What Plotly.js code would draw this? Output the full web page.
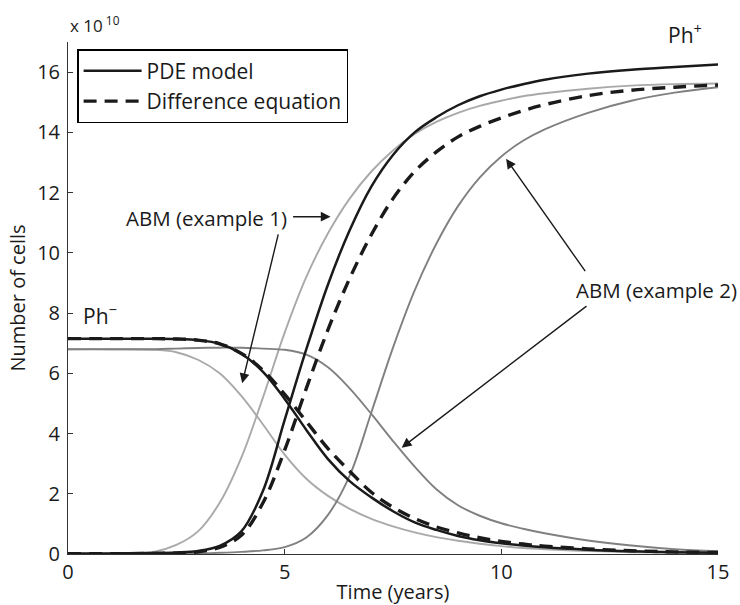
<!DOCTYPE html>
<html>
<head>
<meta charset="utf-8">
<script src="https://cdn.plot.ly/plotly-3.0.1.min.js"></script>
<style>html,body{margin:0;padding:0;background:#fff;}#chart{width:740px;height:605px;}</style>
</head>
<body>
<div id="chart"></div>
<script>
// Time in years
const time = [0,1,2,2.5,3,3.5,4,4.5,5,5.5,6,6.5,7,7.5,8,8.5,9,9.5,10,10.5,11,12,13,14,15];
// Number of cells (x 10^10)
const pdePhPlus   = [0.02,0.02,0.03,0.05,0.1,0.27,0.75,2.1,4.45,6.8,8.95,10.75,12.2,13.25,14.0,14.5,14.9,15.2,15.42,15.6,15.75,15.95,16.08,16.17,16.25];
const pdePhMinus  = [7.15,7.15,7.15,7.14,7.1,6.98,6.65,6.05,5.15,4.12,3.15,2.42,1.88,1.42,1.05,0.8,0.6,0.46,0.36,0.28,0.22,0.14,0.09,0.06,0.04];
const diffPhPlus  = [0.01,0.01,0.02,0.03,0.07,0.22,0.62,1.7,3.45,5.5,7.45,9.15,10.6,11.8,12.7,13.35,13.85,14.2,14.48,14.72,14.92,15.22,15.4,15.5,15.57];
const diffPhMinus = [7.15,7.15,7.15,7.14,7.1,6.98,6.66,6.1,5.3,4.4,3.5,2.75,2.05,1.55,1.18,0.9,0.7,0.54,0.42,0.33,0.26,0.17,0.11,0.07,0.05];
const abm1PhPlus  = [0.01,0.02,0.08,0.3,0.75,1.7,3.2,5.2,7.35,9.2,10.65,11.8,12.7,13.4,13.95,14.35,14.65,14.88,15.05,15.2,15.3,15.45,15.55,15.6,15.62];
const abm1PhMinus = [6.8,6.8,6.78,6.7,6.45,6.0,5.25,4.3,3.3,2.5,1.93,1.5,1.17,0.92,0.72,0.56,0.44,0.34,0.26,0.2,0.16,0.1,0.06,0.04,0.03];
const abm2PhPlus  = [0,0,0.01,0.01,0.02,0.04,0.07,0.12,0.23,0.55,1.3,2.6,4.7,6.85,8.75,10.3,11.55,12.5,13.2,13.72,14.1,14.65,15.05,15.32,15.5];
const abm2PhMinus = [6.8,6.8,6.8,6.82,6.84,6.85,6.85,6.82,6.78,6.62,6.2,5.5,4.65,3.75,2.9,2.15,1.62,1.27,1.02,0.84,0.69,0.45,0.28,0.16,0.09];

const xTicks = [0,5,10,15];
const yTicks = [0,2,4,6,8,10,12,14,16];

const FONT = '"Open Sans", "DejaVu Sans", sans-serif';
const lightGray = '#a9a9a9';
const midGray = '#808080';
const ink = '#1a1a1a';

function tr(y, color, width, dash, name, show, rank) {
  return {
    x: time, y: y, type: 'scatter', mode: 'lines',
    line: {color: color, width: width, dash: dash || 'solid', shape: 'spline', smoothing: 1},
    name: name || '', showlegend: !!show, legendrank: rank || 1000, hoverinfo: 'skip'
  };
}

const data = [
  tr(abm1PhPlus, lightGray, 1.9),
  tr(abm1PhMinus, lightGray, 1.9),
  tr(abm2PhPlus, midGray, 1.9),
  tr(abm2PhMinus, midGray, 1.9),
  tr(diffPhPlus, ink, 3.4, '13px,8px', 'Difference equation', true, 2),
  tr(diffPhMinus, ink, 3.4, '13px,8px'),
  tr(pdePhPlus, ink, 2.5, 'solid', 'PDE model', true, 1),
  tr(pdePhMinus, ink, 2.5)
];

function arrow(x, y, ax, ay) {
  return {x: x, y: y, ax: ax, ay: ay, xref: 'x', yref: 'y', axref: 'x', ayref: 'y',
    text: '', showarrow: true, arrowhead: 2, arrowsize: 1.4, arrowwidth: 1.4, arrowcolor: ink, standoff: 0};
}

const annotations = [
  {x: 0, y: 1.062, xref: 'paper', yref: 'paper', xanchor: 'left', yanchor: 'top',
   text: 'x 10<sup> 10</sup>', showarrow: false, font: {family: FONT, size: 17, color: ink}},
  {x: 13.8, y: 16.7, xref: 'x', yref: 'y', xanchor: 'left', yanchor: 'bottom',
   text: 'Ph<sup>+</sup>', showarrow: false, font: {family: FONT, size: 21, color: ink}},
  {x: 0.3, y: 7.38, xref: 'x', yref: 'y', xanchor: 'left', yanchor: 'bottom',
   text: 'Ph<sup>\u2212</sup>', showarrow: false, font: {family: FONT, size: 21, color: ink}},
  {x: 5.1, y: 11.16, xref: 'x', yref: 'y', xanchor: 'right', yanchor: 'middle',
   text: 'ABM (example 1)', showarrow: false, font: {family: FONT, size: 20.5, color: ink}},
  {x: 11.68, y: 8.77, xref: 'x', yref: 'y', xanchor: 'left', yanchor: 'middle',
   text: 'ABM (example 2)', showarrow: false, font: {family: FONT, size: 20.5, color: ink}},
  arrow(6.06, 11.2, 5.16, 11.2),
  arrow(4.02, 5.67, 4.86, 10.66),
  arrow(10.11, 13.12, 11.96, 9.34),
  arrow(7.70, 3.53, 12.0, 8.27)
];

const axisCommon = {
  showline: true, linecolor: '#333', linewidth: 1, mirror: false,
  showgrid: false, zeroline: false, ticks: 'inside', ticklen: 5, tickwidth: 1, tickcolor: '#333',
  tickfont: {family: FONT, size: 20, color: ink}
};

const layout = {
  width: 740, height: 605,
  margin: {l: 68, r: 22, t: 42, b: 51},
  paper_bgcolor: '#fff', plot_bgcolor: '#fff',
  font: {family: FONT, size: 20, color: ink},
  showlegend: true,
  legend: {x: 0.014, y: 0.986, xanchor: 'left', yanchor: 'top', bgcolor: '#fff',
    bordercolor: '#000', borderwidth: 1.5, itemwidth: 58, traceorder: 'normal',
    font: {family: FONT, size: 21, color: ink}},
  xaxis: Object.assign({}, axisCommon, {range: [0, 15], tickvals: xTicks, ticktext: xTicks.map(String),
    title: {text: 'Time (years)', font: {family: FONT, size: 20, color: ink}, standoff: 0}}),
  yaxis: Object.assign({}, axisCommon, {range: [0, 17], tickvals: yTicks, ticktext: yTicks.map(String),
    ticklabelstandoff: 3,
    title: {text: 'Number of cells', font: {family: FONT, size: 20, color: ink}, standoff: 6}}),
  annotations: annotations
};

Plotly.newPlot('chart', data, layout, {displayModeBar: false, staticPlot: true});
</script>
</body>
</html>
